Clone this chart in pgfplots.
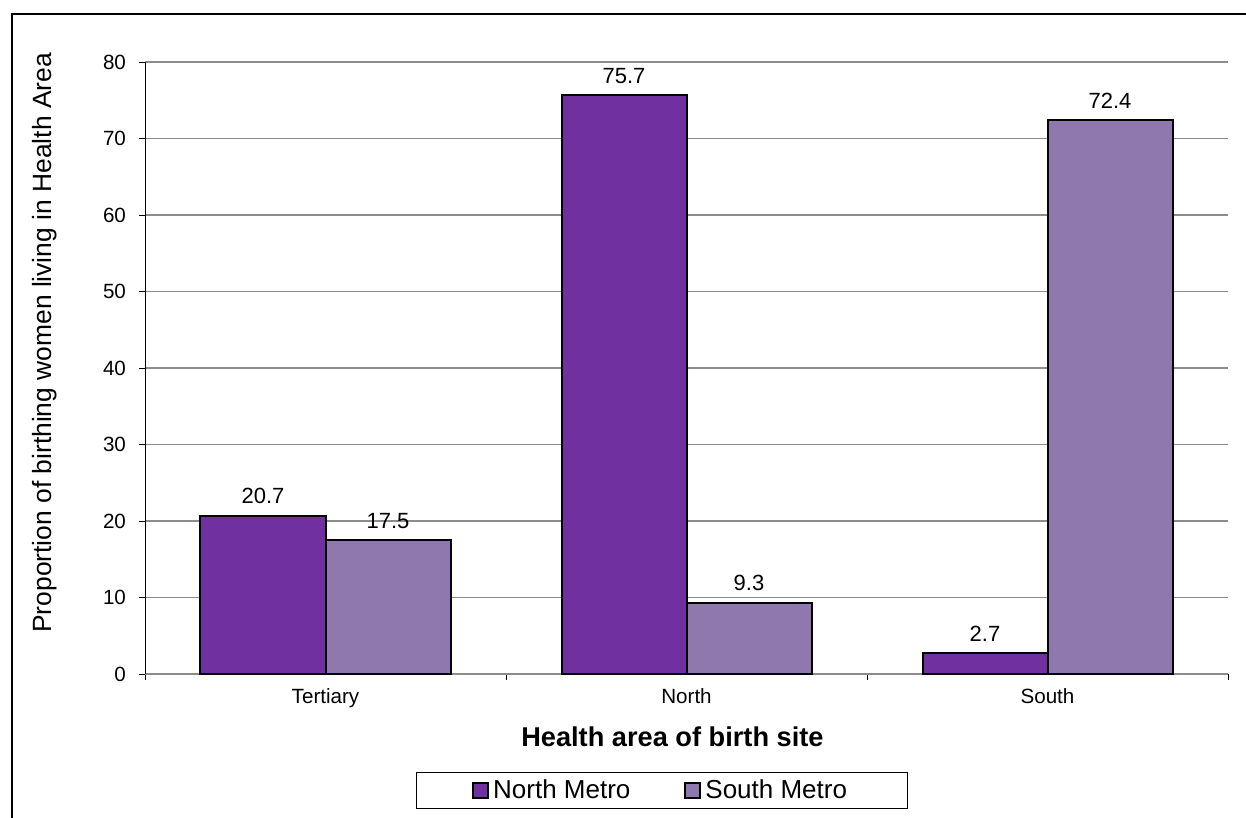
\documentclass[border=0pt]{standalone}
\usepackage{pgfplots}
\pgfplotsset{compat=1.18}
\usepackage{fontspec}
\setmainfont{Liberation Sans}
\definecolor{northc}{RGB}{112,48,160}
\definecolor{southc}{RGB}{142,120,173}
\definecolor{gridc}{RGB}{140,140,140}
\begin{document}
\begin{tikzpicture}
\useasboundingbox (-72.5pt,-72pt) rectangle (550.5pt,337pt);
\draw[line width=1pt] (-66.5pt,-72pt) -- (-66.5pt,330pt) -- (550.5pt,330pt);
\begin{axis}[
    anchor=south west, at={(0pt,0pt)},
    scale only axis,
    width=541.5pt, height=306pt,
    ybar=0pt, bar width=62.5pt,
    xmin=-0.5, xmax=2.5,
    ymin=0, ymax=80,
    ytick={0,10,...,80},
    xtick={0,1,2},
    xticklabels={Tertiary,North,South},
    minor xtick={-0.5,0.5,1.5,2.5},
    major x tick style={draw=none},
    minor x tick style={black, thin},
    y tick style={black, thin},
    tick align=outside,
    major tick length=3pt, minor tick length=3pt,
    axis lines*=left,
    axis line style={-},
    x axis line style={draw=gridc, line width=0.8pt},
    y axis line style={black, thin},
    ymajorgrids, grid style={gridc, line width=0.8pt},
    /pgf/number format/assume math mode=true,
    yticklabel style={font=\fontsize{10.3}{12}\selectfont, xshift=-3pt},
    xticklabel style={font=\fontsize{10.3}{12}\selectfont, yshift=-1pt},
    ylabel={Proportion of birthing women living in Health Area},
    ylabel style={at={(axis description cs:-0.0923,0.541)}, anchor=center, font=\fontsize{13.2}{15}\selectfont},
    xlabel={\textbf{Health area of birth site}},
    xlabel style={at={(axis description cs:0.487,-0.102)}, anchor=center, font=\fontsize{13.6}{15}\selectfont},
    nodes near coords,
    nodes near coords style={font=\fontsize{11}{13}\selectfont, /pgf/number format/fixed, /pgf/number format/precision=1, /pgf/number format/fixed zerofill, yshift=2pt},
    legend columns=2,
    legend style={at={(axis description cs:0.477,-0.190)}, anchor=center, draw=black, thin,
        font=\fontsize{13}{15}\selectfont, inner xsep=28pt, inner ysep=1.5pt,
        /tikz/every even column/.append style={column sep=25pt}},
    legend image code/.code={\draw[#1, line width=1pt] (0pt,-3.75pt) rectangle (7.5pt,3.75pt);},
    enlarge x limits=false,
    clip=false,
]
\addplot[fill=northc, draw=black, line width=1pt] coordinates {(0,20.7) (1,75.7) (2,2.7)};
\addlegendentry{North Metro}
\addplot[fill=southc, draw=black, line width=1pt] coordinates {(0,17.5) (1,9.3) (2,72.4)};
\addlegendentry{South Metro}
\end{axis}
\end{tikzpicture}
\end{document}
